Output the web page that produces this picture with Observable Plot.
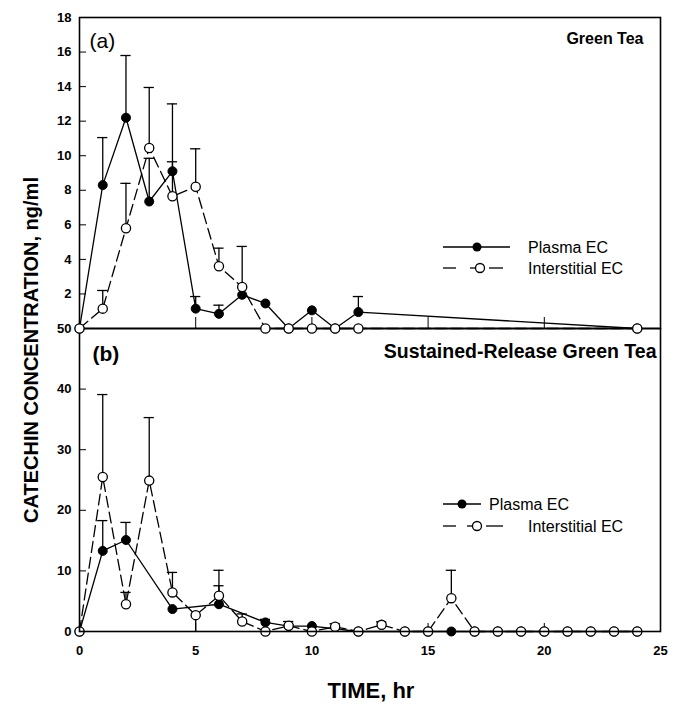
<!DOCTYPE html>
<html>
<head>
<meta charset="utf-8">
<script src="https://cdn.jsdelivr.net/npm/d3@7"></script>
<script src="https://cdn.jsdelivr.net/npm/@observablehq/plot@0.6"></script>
<style>
  html, body { margin: 0; padding: 0; background: #fff; }
  #chart { position: relative; width: 683px; height: 714px; background: #fff;
           font-family: "Liberation Sans", Arial, Helvetica, sans-serif; color: #000; }
  #chart > svg, #chart > .layer { position: absolute; left: 0; top: 0; }
  .ytitle { position: absolute; left: 31px; top: 350px; transform: translate(-50%, -50%) rotate(-90deg);
            font-weight: bold; font-size: 20px; white-space: nowrap; }
  .xtitle { position: absolute; left: 371px; top: 678px; transform: translateX(-50%);
            font-weight: bold; font-size: 22px; white-space: nowrap; }
</style>
</head>
<body>
<div id="chart"></div>
<script>
// ---------- Data ----------
// Panel (a): Green Tea
const hoursA = [0, 1, 2, 3, 4, 5, 6, 7, 8, 9, 10, 11, 12, 24];
const plasmaA = [0, 8.3, 12.2, 7.35, 9.1, 1.15, 0.85, 1.95, 1.45, 0, 1.05, 0, 0.95, 0];
const plasmaErrA = [0, 2.75, 3.6, 2.5, 3.9, 0.7, 0.5, 0, 0, 0, 0, 0, 0.9, 0];
const interA = [0, 1.15, 5.8, 10.45, 7.65, 8.2, 3.6, 2.4, 0, 0, 0, 0, 0, 0];
const interErrA = [0, 1.05, 2.6, 3.5, 2.0, 2.2, 1.05, 2.35, 0, 0, 0, 0, 0, 0];

// Panel (b): Sustained-Release Green Tea
const hoursPlasmaB = [0, 1, 2, 4, 6, 8, 9, 10, 12, 14, 15, 16, 17, 18, 19, 20, 21, 22, 23, 24];
const plasmaB = [0, 13.3, 15.1, 3.7, 4.5, 1.5, 0.9, 0.9, 0, 0, 0, 0, 0, 0, 0, 0, 0, 0, 0, 0];
const plasmaErrB = [0, 5.0, 2.9, 0, 3.05, 0.5, 0, 0, 0, 0, 0, 0, 0, 0, 0, 0, 0, 0, 0, 0];
const hoursInterB = [0, 1, 2, 3, 4, 5, 6, 7, 8, 9, 10, 11, 12, 13, 14, 15, 16, 17, 18, 19, 20, 21, 22, 23, 24];
const interB = [0, 25.5, 4.5, 24.9, 6.45, 2.7, 5.9, 1.65, 0, 0.95, 0, 0.78, 0, 1.1, 0, 0, 5.5, 0, 0, 0, 0, 0, 0, 0, 0];
// signed error-bar extent (negative = bar drawn downward)
const interErrB = [0, 13.6, 1.95, 10.4, 3.3, -2.7, 4.2, 1.25, 0, 0.7, 0, 0.5, 0, 0.5, 0, 0, 4.6, 0, 0, 0, 0, 0, 0, 0, 0];

// Tick labels
const xTickLabels = [0, 5, 10, 15, 20, 25];
const xInnerTicks = [5, 10, 15, 20];
const yTicksA = [2, 4, 6, 8, 10, 12, 14, 16, 18];
const yTicksB = [0, 10, 20, 30, 40, 50];
const yInnerTicksB = [10, 20, 30, 40];

const seriesNames = ["Plasma EC", "Interstitial EC"];
const panelTitles = ["Green Tea", "Sustained-Release Green Tea"];
const panelLabels = ["(a)", "(b)"];

// ---------- Helpers ----------
const rows = (hours, vals, errs) => hours.map((t, i) => ({t, v: vals[i], e: errs[i]}));
const FONT = '"Liberation Sans", Arial, Helvetica, sans-serif';
const CAP = 0.22; // half cap width in hours

function errMarks(data) {
  const d = data.filter(r => r.e !== 0);
  return [
    Plot.ruleX(d, {x: "t", y1: "v", y2: r => r.v + r.e, stroke: "black", strokeWidth: 1.3}),
    Plot.ruleY(d.filter(r => r.e > 0), {y: r => r.v + r.e, x1: r => r.t - CAP, x2: r => r.t + CAP, stroke: "black", strokeWidth: 1.3})
  ];
}
function seriesMarks(plasma, inter) {
  return [
    ...errMarks(plasma),
    ...errMarks(inter),
    Plot.line(plasma, {x: "t", y: "v", stroke: "black", strokeWidth: 1.3}),
    Plot.line(inter, {x: "t", y: "v", stroke: "black", strokeWidth: 1.3, strokeDasharray: "11,5"}),
    Plot.dot(plasma, {x: "t", y: "v", r: 4.5, fill: "black", stroke: "black", strokeWidth: 1}),
    Plot.dot(inter, {x: "t", y: "v", r: 4.6, fill: "white", stroke: "black", strokeWidth: 1.3})
  ];
}

const common = {
  width: 683,
  marginLeft: 79,
  marginRight: 23,
  x: {domain: [0, 25]},
  style: {background: "transparent", overflow: "visible", fontFamily: FONT, color: "black"}
};

const dataA = {p: rows(hoursA, plasmaA, plasmaErrA), i: rows(hoursA, interA, interErrA)};
const dataB = {p: rows(hoursPlasmaB, plasmaB, plasmaErrB), i: rows(hoursInterB, interB, interErrB)};

// ---------- Bottom panel (b) ----------
const plotB = Plot.plot({
  ...common,
  height: 714,
  marginTop: 328,
  marginBottom: 83,
  y: {domain: [0, 50]},
  marks: [
    Plot.axisY({ticks: yTicksB, tickSize: 0, tickPadding: 8, label: null, fontSize: 13, fontWeight: "bold"}),
    Plot.axisY({ticks: yInnerTicksB, tickSize: -7, tickFormat: () => "", label: null}),
    Plot.axisX({ticks: xTickLabels, tickSize: 0, tickPadding: 14, label: null, fontSize: 13, fontWeight: "bold"}),
    Plot.axisX({ticks: xInnerTicks, tickSize: -8, tickFormat: () => "", label: null}),
    ...seriesMarks(dataB.p, dataB.i),
    Plot.frame({stroke: "black", strokeWidth: 1.6}),
    Plot.text([panelLabels[1]], {frameAnchor: "top-left", dx: 13, dy: 32, lineAnchor: "bottom", textAnchor: "start", fontSize: 21, fontWeight: "bold"}),
    Plot.text([panelTitles[1]], {frameAnchor: "top-right", dx: -4, dy: 29, lineAnchor: "bottom", textAnchor: "end", fontSize: 19.5, fontWeight: "bold"})
  ]
});

// ---------- Top panel (a) ----------
const plotA = Plot.plot({
  ...common,
  height: 330,
  marginTop: 17,
  marginBottom: 2,
  y: {domain: [0, 18]},
  marks: [
    Plot.axisY({ticks: yTicksA, tickSize: -7, tickPadding: 15, label: null, fontSize: 13, fontWeight: "bold"}),
    Plot.axisX({ticks: xInnerTicks, tickSize: -11, tickFormat: () => "", label: null}),
    Plot.frame({stroke: "black", strokeWidth: 1.6}),
    ...seriesMarks(dataA.p, dataA.i),
    Plot.text([panelLabels[0]], {frameAnchor: "top-left", dx: 10, dy: 30, lineAnchor: "bottom", textAnchor: "start", fontSize: 21}),
    Plot.text([panelTitles[0]], {frameAnchor: "top-right", dx: -17, dy: 26, lineAnchor: "bottom", textAnchor: "end", fontSize: 16, fontWeight: "bold"})
  ]
});

const chart = document.getElementById("chart");
chart.appendChild(plotB);
chart.appendChild(plotA);

// ---------- Legends ----------
const NS = "http://www.w3.org/2000/svg";
const leg = document.createElementNS(NS, "svg");
leg.setAttribute("width", 683);
leg.setAttribute("height", 714);
leg.setAttribute("class", "layer");
leg.style.position = "absolute";
leg.style.left = "0"; leg.style.top = "0";
function el(tag, attrs, text) {
  const e = document.createElementNS(NS, tag);
  for (const k in attrs) e.setAttribute(k, attrs[k]);
  if (text) e.textContent = text;
  leg.appendChild(e);
}
function legend(spec) {
  // plasma row
  el("line", {x1: 443, x2: spec.pEnd, y1: spec.py, y2: spec.py, stroke: "black", "stroke-width": 1.3});
  el("circle", {cx: spec.pc, cy: spec.py, r: 4.5, fill: "black"});
  el("text", {x: spec.ptx, y: spec.py + 6, "font-size": 16, "font-family": FONT}, seriesNames[0]);
  // interstitial row
  el("line", {x1: 443, x2: 456, y1: spec.iy, y2: spec.iy, stroke: "black", "stroke-width": 1.3});
  el("line", {x1: spec.ic - 10, x2: spec.ic - 4, y1: spec.iy, y2: spec.iy, stroke: "black", "stroke-width": 1.3});
  el("line", {x1: spec.ic + 9, x2: 503, y1: spec.iy, y2: spec.iy, stroke: "black", "stroke-width": 1.3});
  el("circle", {cx: spec.ic, cy: spec.iy, r: 4.5, fill: "white", stroke: "black", "stroke-width": 1.3});
  el("text", {x: 528, y: spec.iy + 6, "font-size": 16, "font-family": FONT}, seriesNames[1]);
}
legend({py: 247, pEnd: 510, pc: 477, ptx: 528, iy: 268, ic: 480});
legend({py: 504, pEnd: 481, pc: 462, ptx: 489, iy: 526, ic: 477});
chart.appendChild(leg);

// ---------- Axis titles ----------
const yt = document.createElement("div");
yt.className = "ytitle";
yt.textContent = "CATECHIN CONCENTRATION, ng/ml";
chart.appendChild(yt);
const xt = document.createElement("div");
xt.className = "xtitle";
xt.textContent = "TIME, hr";
chart.appendChild(xt);
</script>
</body>
</html>
